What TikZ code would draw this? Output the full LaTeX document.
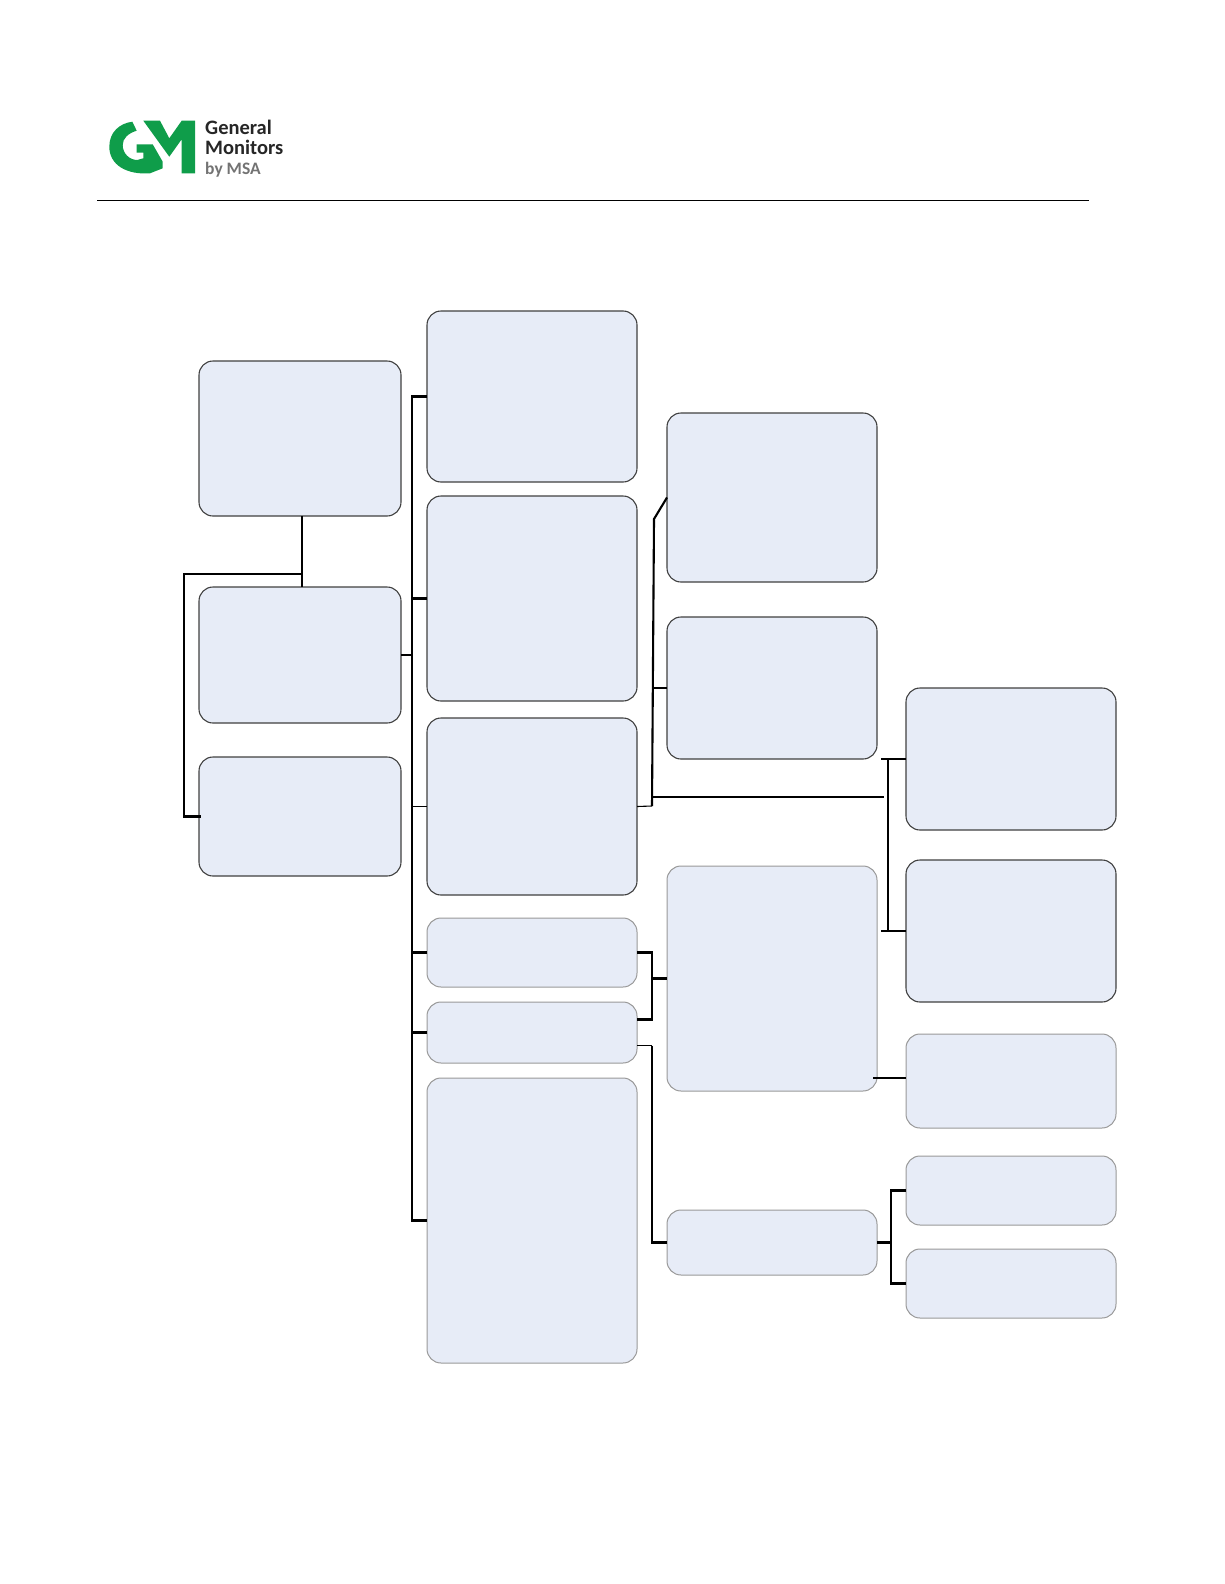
\documentclass[tikz,border=0pt]{standalone}
\usepackage{fontspec}
\setmainfont{Carlito}
\usetikzlibrary{positioning}
\definecolor{gmgreen}{HTML}{0F9D4A}
\definecolor{boxfill}{HTML}{E7ECF7}
\begin{document}
\begin{tikzpicture}[
  x=1pt, y=1pt,
  box/.style={draw=black!75, fill=boxfill, rounded corners=14pt, line width=1.1pt,
              inner sep=0pt, outer sep=0pt},
  pale/.style={box, draw=black!40, line width=1pt},
  cola/.style={minimum width=202pt},
  colb/.style={minimum width=210pt},
  conn/.style={line width=2.1pt},
  thin conn/.style={line width=1.1pt},
  logotext/.style={inner sep=0pt, anchor=base west, font=\bfseries\fontsize{20.5}{20.5}\selectfont, text=black!85},
  logosub/.style={logotext, font=\bfseries\fontsize{17.5}{17.5}\selectfont, text=black!55}
]
\useasboundingbox (0,0) rectangle (1224,-1584);
% header
\coordinate (hl) at (97,-200);
\coordinate (hr) at (1089,-200);
\draw[line width=1pt] (hl) -- (hr);
\fill[gmgreen] (132.3,-121.7) -- (136.7,-130.7)
  .. controls (128.3,-133.3) and (122.7,-138.3) .. (122.7,-145)
  .. controls (122.7,-153.3) and (129.3,-160) .. (137.3,-160)
  -- (143.3,-158.3) -- (143.3,-152.7) -- (136.7,-152.7) -- (136.7,-144.3) -- (152.7,-144.3)
  -- (162.7,-161.7) -- (162.7,-168.3) -- (150,-173.3)
  .. controls (126.7,-175) and (109.3,-165) .. (109.3,-146.7)
  .. controls (109.3,-131.7) and (120,-123.3) .. (132.3,-121.7) -- cycle;
\fill[gmgreen] (143.3,-120.7) -- (160,-120.7) -- (169.3,-138.3) -- (181.7,-120.7) -- (195,-120.7)
  -- (195,-173.3) -- (181.7,-173.3) -- (181.7,-139.3) -- (169.3,-156.7) -- cycle;
\node[logotext] (lg1) at (205,-135) {General};
\node[logotext] (lg2) at (205,-154) {Monitors};
\node[logosub] (lg3) at (205,-174) {by MSA};

% left column
\node[box, cola, minimum height=155pt, anchor=north west] (a) at (199,-361) {};
\node[box, cola, minimum height=136pt, below=71pt of a] (b) {};
\node[box, cola, minimum height=119pt, below=34pt of b] (c) {};

% second column
\node[box, colb, minimum height=171pt, anchor=north west] (d) at (427,-311) {};
\node[box, colb, minimum height=205pt, below=14pt of d] (e) {};
\node[box, colb, minimum height=177pt, below=17pt of e] (f) {};
\node[pale, colb, minimum height=69pt, below=23pt of f] (g) {};
\node[pale, colb, minimum height=61pt, below=15pt of g] (h) {};
\node[pale, colb, minimum height=285pt, below=15pt of h] (i) {};

% third column
\node[box, colb, minimum height=169pt, anchor=north west] (j) at (667,-413) {};
\node[box, colb, minimum height=142pt, below=35pt of j] (k) {};
\node[pale, colb, minimum height=225pt, below=107pt of k] (l) {};
\node[pale, colb, minimum height=65pt, below=119pt of l] (m) {};

% fourth column
\node[box, colb, minimum height=142pt, anchor=north west] (n) at (906,-688) {};
\node[box, colb, minimum height=142pt, below=30pt of n] (o) {};
\node[pale, colb, minimum height=94pt, below=32pt of o] (p) {};
\node[pale, colb, minimum height=69pt, below=28pt of p] (q) {};
\node[pale, colb, minimum height=69pt, below=24pt of q] (r) {};

% left bracket
\coordinate (ab) at (302,-574);
\coordinate (lf) at (184,-574);
\draw[conn] (ab |- a.south) -- (ab |- b.north);
\draw[conn] (ab) -- (lf) |- ([xshift=2pt]c.west);

% main trunk
\coordinate (tr) at (412,0);
\draw[conn] (d.west) -- (d.west -| tr) -- (i.west -| tr) -- (i.west);
\draw[conn] (b.east) -- (b.east -| tr);
\draw[conn] (e.west) -- (e.west -| tr);
\draw[thin conn] (f.west) -- (f.west -| tr);
\draw[conn] (g.west) -- (g.west -| tr);
\draw[conn] (h.west) -- (h.west -| tr);

% branch to the third column
\coordinate (ft) at (652,-806);
\coordinate (fj) at (654,-519);
\coordinate (lj) at (652,-797);
\coordinate (lg) at (884,-797);
\coordinate (nt) at (888,-759);
\draw[thin conn] (f.east) -- (ft);
\draw[conn] (ft) -- (fj) -- (j.west);
\draw[conn] (k.west) -- (k.west -| lj);
\draw[conn] (lj) -- (lg);
\draw[conn] (nt |- n.west) -- (nt |- o.west);
\draw[conn] (n.west) -- ++(-25,0);
\draw[conn] (o.west) -- ++(-25,0);

% g and h to l
\coordinate (gh) at (652,-979);
\coordinate (hl1) at ([yshift=13pt]h.east);
\coordinate (hl2) at ([yshift=-13pt]h.east);
\draw[conn] (g.east) -| (gh) |- (hl1);
\draw[conn] (gh) -- (gh |- l.west) -- (l.west);

% h to m
\draw[thin conn] (hl2) -- (hl2 -| gh);
\draw[conn] (hl2 -| gh) |- (m.west);

% l to p
\coordinate (lp) at (873,-1078);
\draw[thin conn] (lp) -- (lp -| p.west);

% m to q and r
\coordinate (qr) at (891,0);
\draw[conn] (m.east) -- (m.east -| qr);
\draw[conn] (q.west) -- (q.west -| qr) -- (r.west -| qr) -- (r.west);
\end{tikzpicture}
\end{document}
